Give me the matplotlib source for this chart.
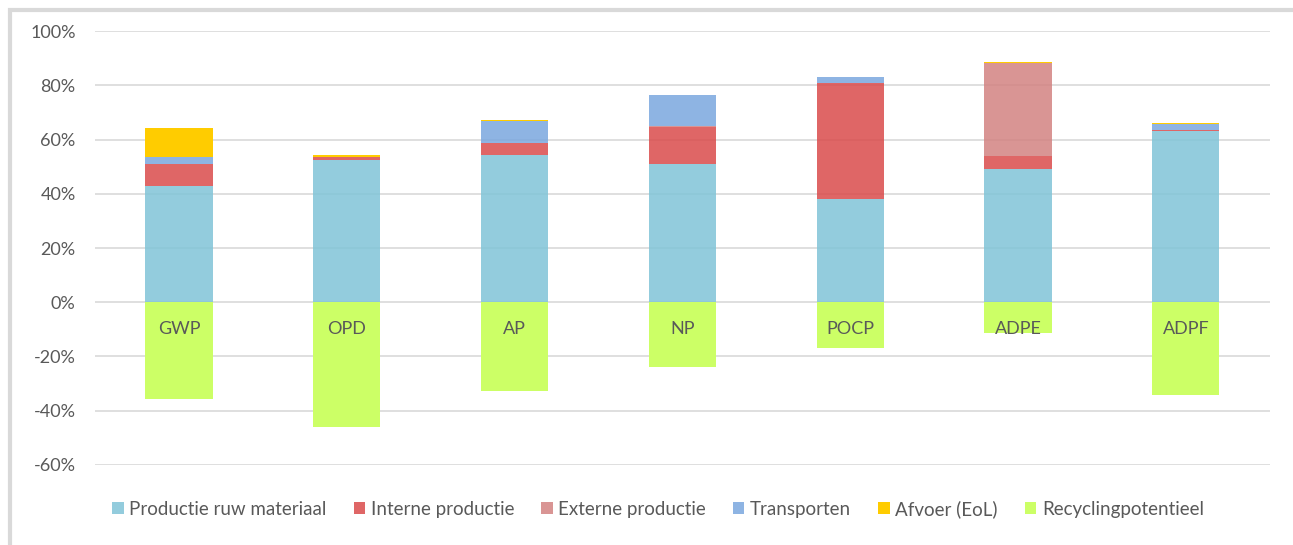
import numpy as np
import matplotlib
matplotlib.use("Agg")
import matplotlib.pyplot as plt
from matplotlib.patches import Rectangle
from matplotlib.ticker import FuncFormatter

# data (percent)
categories = ["GWP", "OPD", "AP", "NP", "POCP", "ADPE", "ADPF"]
raw_material = [42.8, 52.4, 54.2, 50.9, 38.0, 49.3, 63.3]
intern_prod = [8.3, 1.0, 4.5, 13.8, 42.7, 4.8, 0.2]
extern_prod = [0.0, 0.0, 0.0, 0.3, 0.0, 34.2, 0.1]
transport = [2.4, 0.0, 8.2, 11.4, 2.2, 0.0, 2.3]
afvoer = [10.7, 1.0, 0.2, 0.1, 0.1, 0.1, 0.1]
recycling = [-35.8, -46.0, -32.8, -23.8, -17.0, -11.5, -34.3]

series = ["Productie ruw materiaal", "Interne productie", "Externe productie",
          "Transporten", "Afvoer (EoL)", "Recyclingpotentieel"]
colors = ["#80C4D7", "#DA4B4B", "#D38381", "#7AA7DE", "#FFCC00", "#CCFF66"]
alphas = [0.85, 0.85, 0.85, 0.85, 1.0]

plt.rcParams['font.family'] = ['Lato', 'DejaVu Sans']
txt = "#595959"

fig = plt.figure(figsize=(12.93, 5.45), dpi=100)
ax = fig.add_axes([0.0735, 0.1468, 0.9085, 0.7963])

x = np.arange(len(categories))
w = 0.4
bottom = np.zeros(len(categories))
for vals, name, c, a in zip([raw_material, intern_prod, extern_prod, transport, afvoer],
                            series[:5], colors[:5], alphas):
    ax.bar(x, vals, w, bottom=bottom, color=c, alpha=a, label=name, zorder=3)
    bottom = bottom + np.array(vals)
ax.bar(x, recycling, w, color=colors[5], label=series[5], zorder=3)

for i, cat in enumerate(categories):
    ax.text(x[i], -10, cat, ha="center", va="center", fontsize=13, color=txt, zorder=4)

ax.set_xlim(-0.5, len(categories) - 0.5)
ax.set_ylim(-60, 100)
ax.set_yticks(np.arange(-60, 101, 20))
ax.yaxis.set_major_formatter(FuncFormatter(lambda v, p: "%d%%" % v))
ax.tick_params(axis="y", length=0, pad=14, labelsize=13, labelcolor=txt)
ax.set_xticks([])
ax.grid(axis="y", color="#D9D9D9", linewidth=1.2, zorder=0)
for s in ax.spines.values():
    s.set_visible(False)

leg = fig.legend(loc="center", bbox_to_anchor=(0.509, 0.066), ncol=6, frameon=False,
                 fontsize=13.5, handlelength=0.6, handleheight=0.6, handletextpad=0.3,
                 columnspacing=1.45)
for t in leg.get_texts():
    t.set_color(txt)

# outer chart border
fig.patches.append(Rectangle((10 / 1293, -0.1), 1.2, 1 - 10 / 545 + 0.1,
                             transform=fig.transFigure, fill=False,
                             edgecolor="#D9D9D9", linewidth=3))

fig.savefig("out.png", dpi=100)
